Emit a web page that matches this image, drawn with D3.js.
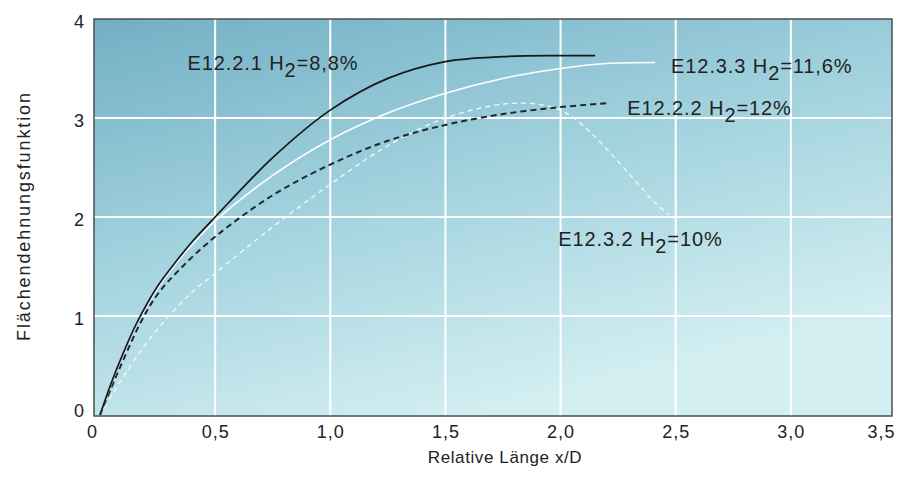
<!DOCTYPE html>
<html>
<head>
<meta charset="utf-8">
<script src="https://cdn.jsdelivr.net/npm/d3@7"></script>
<style>
  body { margin: 0; background: #fff; }
  svg text { font-family: "Liberation Sans", Arial, sans-serif; fill: #222; }
</style>
</head>
<body>
<div id="chart"></div>
<script>
// values
const xTicks = [0, 0.5, 1.0, 1.5, 2.0, 2.5, 3.0, 3.5];
const xTickLabels = ["0", "0,5", "1,0", "1,5", "2,0", "2,5", "3,0", "3,5"];
const yTicks = [0, 1, 2, 3, 4];

// E12.2.1 H2=8,8% (black solid)
const e1221X = [0, 0.05, 0.1, 0.16, 0.25, 0.33, 0.4, 0.5, 0.75, 1.0, 1.25, 1.5, 1.75, 2.0, 2.15];
const e1221Y = [0, 0.33, 0.62, 0.93, 1.3, 1.55, 1.75, 2.0, 2.6, 3.08, 3.4, 3.57, 3.62, 3.63, 3.63];
// E12.3.3 H2=11,6% (white solid)
const e1233X = [0, 0.05, 0.1, 0.16, 0.25, 0.33, 0.4, 0.5, 0.75, 1.0, 1.25, 1.5, 1.75, 2.0, 2.2, 2.41];
const e1233Y = [0, 0.32, 0.61, 0.92, 1.28, 1.53, 1.72, 1.96, 2.42, 2.78, 3.05, 3.25, 3.4, 3.5, 3.55, 3.56];
// E12.2.2 H2=12% (black dashed)
const e1222X = [0, 0.05, 0.1, 0.18, 0.25, 0.35, 0.5, 0.75, 1.0, 1.25, 1.5, 1.75, 2.0, 2.21];
const e1222Y = [0, 0.28, 0.55, 0.95, 1.22, 1.48, 1.8, 2.22, 2.53, 2.77, 2.93, 3.04, 3.11, 3.15];
// E12.3.2 H2=10% (white dashed)
const e1232X = [0, 0.1, 0.2, 0.3, 0.4, 0.5, 0.75, 1.0, 1.25, 1.5, 1.75, 1.9, 2.0, 2.1, 2.25, 2.4, 2.47];
const e1232Y = [0, 0.38, 0.72, 1.0, 1.24, 1.43, 1.9, 2.33, 2.72, 3.0, 3.14, 3.14, 3.08, 2.92, 2.56, 2.17, 2.02];

const labels = [
  { name: "E12.2.1", h: "8,8%", x: 0.38, y: 3.48 },
  { name: "E12.3.3", h: "11,6%", x: 2.48, y: 3.45 },
  { name: "E12.2.2", h: "12%", x: 2.29, y: 3.03 },
  { name: "E12.3.2", h: "10%", x: 1.99, y: 1.71 }
];

const W = 903, H = 477;
const frame = { left: 94, top: 19, right: 892, bottom: 416 };

const svg = d3.select("#chart").append("svg")
  .attr("width", W).attr("height", H);

const x = d3.scaleLinear().domain([0, 3.5]).range([100, 906]);
const y = d3.scaleLinear().domain([0, 4]).range([415, 19]);

// background gradient
const defs = svg.append("defs");
const grad = defs.append("linearGradient")
  .attr("id", "bg").attr("x1", 0).attr("y1", 0).attr("x2", 0.5).attr("y2", 1);
grad.append("stop").attr("offset", "0").attr("stop-color", "#72afc4");
grad.append("stop").attr("offset", "0.5").attr("stop-color", "#a2d2de");
grad.append("stop").attr("offset", "1").attr("stop-color", "#d4eff2");

defs.append("clipPath").attr("id", "clip")
  .append("rect")
  .attr("x", frame.left).attr("y", frame.top)
  .attr("width", frame.right - frame.left).attr("height", frame.bottom - frame.top);

svg.append("rect")
  .attr("x", frame.left).attr("y", frame.top)
  .attr("width", frame.right - frame.left).attr("height", frame.bottom - frame.top)
  .attr("fill", "url(#bg)");

// grid
const grid = svg.append("g").attr("clip-path", "url(#clip)");
grid.selectAll("line.gx").data(xTicks.filter(d => d > 0 && d < 3.5)).enter()
  .append("line").attr("class", "gx")
  .attr("x1", d => x(d)).attr("x2", d => x(d))
  .attr("y1", frame.top).attr("y2", frame.bottom)
  .attr("stroke", "#fff").attr("stroke-width", 2);
grid.selectAll("line.gy").data(yTicks.filter(d => d > 0 && d < 4)).enter()
  .append("line").attr("class", "gy")
  .attr("x1", frame.left).attr("x2", frame.right)
  .attr("y1", d => y(d)).attr("y2", d => y(d))
  .attr("stroke", "#fff").attr("stroke-width", 2);

// curves
const line = d3.line().x(d => x(d[0])).y(d => y(d[1])).curve(d3.curveCatmullRom.alpha(0.5));
const zip = (a, b) => a.map((v, i) => [v, b[i]]);
const series = [
  { data: zip(e1232X, e1232Y), color: "#f2fafa", width: 1.3, dash: "5,4" },
  { data: zip(e1222X, e1222Y), color: "#1e2a30", width: 2, dash: "6,4" },
  { data: zip(e1233X, e1233Y), color: "#ffffff", width: 1.5, dash: null },
  { data: zip(e1221X, e1221Y), color: "#15191c", width: 1.7, dash: null }
];
const curves = svg.append("g").attr("clip-path", "url(#clip)");
series.forEach(s => {
  curves.append("path")
    .datum(s.data)
    .attr("fill", "none")
    .attr("stroke", s.color)
    .attr("stroke-width", s.width)
    .attr("stroke-dasharray", s.dash)
    .attr("d", line);
});

// frame
svg.append("rect")
  .attr("x", frame.left).attr("y", frame.top)
  .attr("width", frame.right - frame.left).attr("height", frame.bottom - frame.top)
  .attr("fill", "none").attr("stroke", "#4a4f52").attr("stroke-width", 1.5);

// axes
const xAxis = svg.append("g")
  .attr("transform", "translate(0," + frame.bottom + ")")
  .call(d3.axisBottom(x).tickValues(xTicks).tickSize(0).tickPadding(0)
    .tickFormat((d, i) => xTickLabels[i]));
xAxis.select(".domain").remove();
xAxis.selectAll("text")
  .attr("y", 22).attr("dy", 0)
  .style("font-size", "18px").style("letter-spacing", "1px")
  .attr("fill", "#222")
  .attr("dx", (d, i) => i === 0 ? -8 : 0)
  .attr("text-anchor", (d, i) => i === xTicks.length - 1 ? "end" : "middle")
  .attr("x", (d, i) => i === xTicks.length - 1 ? -11 : 0);

const yAxis = svg.append("g")
  .attr("transform", "translate(" + frame.left + ",0)")
  .call(d3.axisLeft(y).tickValues(yTicks).tickSize(0).tickPadding(0)
    .tickFormat(d3.format("d")));
yAxis.select(".domain").remove();
yAxis.selectAll("text")
  .attr("x", -10).attr("dy", (d) => d === 0 ? "0.1em" : "0.45em")
  .style("font-size", "18px")
  .attr("fill", "#222");

svg.append("text")
  .attr("x", 505).attr("y", 463)
  .attr("text-anchor", "middle")
  .style("font-size", "17px").style("letter-spacing", "0.6px")
  .text("Relative Länge x/D");

svg.append("text")
  .attr("transform", "translate(30,216) rotate(-90)")
  .attr("text-anchor", "middle")
  .style("font-size", "18px").style("letter-spacing", "1.9px")
  .text("Flächendehnungsfunktion");

// curve labels
labels.forEach(l => {
  const t = svg.append("text")
    .attr("x", x(l.x)).attr("y", y(l.y))
    .style("font-size", "20px").style("letter-spacing", "0.9px");
  t.append("tspan").text(l.name + " H");
  t.append("tspan").attr("dy", 7).text("2");
  t.append("tspan").attr("dy", -7).text("=" + l.h);
});
</script>
</body>
</html>
